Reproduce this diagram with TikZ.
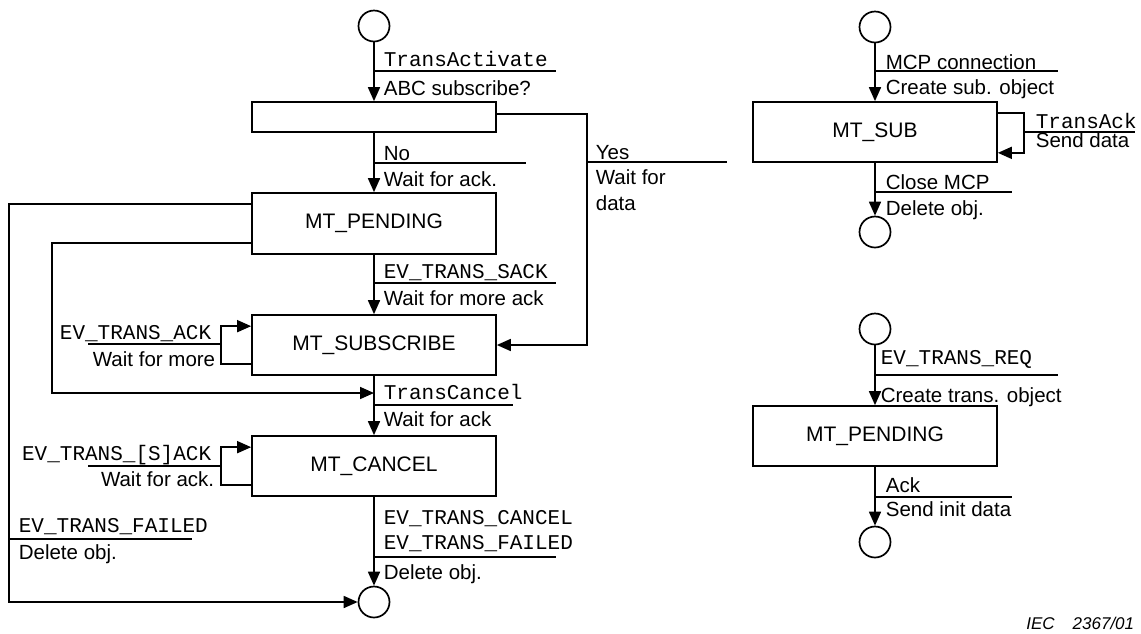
\documentclass[tikz,border=0pt]{standalone}
\usepackage{fontspec}
\setmainfont{Liberation Sans}
\setmonofont{Liberation Mono}
\usetikzlibrary{arrows.meta,calc}
\begin{document}
\begin{tikzpicture}[x=1pt,y=-1pt,line width=1.7pt,
  state/.style={draw,minimum width=244pt,minimum height=60pt,inner sep=0pt,font=\fontsize{21}{25}\selectfont},
  term/.style={draw,circle,minimum size=31pt,inner sep=0pt},
  arr/.style={-{Triangle[length=14pt,width=12pt]}},
  sl/.style={font=\fontsize{20.5}{24}\selectfont,inner sep=0pt,anchor=base west},
  ml/.style={font=\ttfamily\fontsize{21}{24}\selectfont,inner sep=0pt,anchor=base west},
  re/.style={anchor=base east}]
\useasboundingbox (0,0) rectangle (1141,633);

% left chart
\node[term] (c1) at (374,26) {};
\node[state,minimum height=30pt] (dec) at (374,117) {};
\node[state,minimum height=61pt] (pend) at (374,223.5) {MT\_PENDING};
\node[state] (sub) at (374,345) {MT\_SUBSCRIBE};
\node[state] (canc) at (374,466) {MT\_CANCEL};
\node[term] (c2) at (374,602) {};

\draw[arr] (c1) -- (dec);
\draw[arr] (dec) -- (pend);
\draw[arr] (pend) -- (sub);
\draw[arr] (sub) -- (canc);
\draw[arr] (canc) -- (c2);

\coordinate (yesx) at (587,0);
\coordinate (d1) at ($(dec.north east)+(0,13)$);
\draw[arr] (d1) -- (d1 -| yesx) |- (sub.east);

\coordinate (outx) at (9,0);
\coordinate (p1) at ($(pend.north west)+(0,12)$);
\draw[arr] (p1) -- (p1 -| outx) |- (c2.west);

\coordinate (inx) at (52,0);
\coordinate (p2) at ($(pend.south west)+(0,-12)$);
\coordinate (tc) at (374,393);
\draw[arr] (p2) -- (p2 -| inx) |- (tc);

\coordinate (lx) at (221,0);
\coordinate (s1) at ($(sub.south west)+(0,-12)$);
\coordinate (s2) at ($(sub.north west)+(0,12)$);
\draw[arr] (s1) -- (s1 -| lx) |- (s2);
\coordinate (k1) at ($(canc.south west)+(0,-12)$);
\coordinate (k2) at ($(canc.north west)+(0,12)$);
\draw[arr] (k1) -- (k1 -| lx) |- (k2);

% separators
\draw (374,71) -- (556,71);
\draw (374,163) -- (526,163);
\draw (587,162) -- (727,162);
\draw (374,283) -- (556,283);
\draw (88,344) -- (221,344);
\draw (374,405) -- (513,405);
\draw (88,466) -- (221,466);
\draw (9,539) -- (192,539);
\draw (374,557) -- (556,557);

% labels left
\node[ml] (t1) at (383,66) {TransActivate};
\node[sl] (t2) at (383,95) {ABC subscribe?};
\node[sl] (t3) at (383,160) {No};
\node[sl] (t4) at (383,186) {Wait for ack.};
\node[sl] (t5) at (595,159) {Yes};
\node[sl] (t6) at (595,184) {Wait for};
\node[sl] (t7) at (595,210) {data};
\node[ml] (t8) at (383,278) {EV\_TRANS\_SACK};
\node[sl] (t9) at (383,305) {Wait for more ack};
\node[ml,re] (t10) at (212,339) {EV\_TRANS\_ACK};
\node[sl,re] (t11) at (216,366) {Wait for more};
\node[ml] (t12) at (383,399) {TransCancel};
\node[sl] (t13) at (383,426) {Wait for ack};
\node[ml,re] (t14) at (212,460) {EV\_TRANS\_[S]ACK};
\node[sl,re] (t15) at (215,486) {Wait for ack.};
\node[ml] (t16) at (18,532) {EV\_TRANS\_FAILED};
\node[sl] (t17) at (18,559) {Delete obj.};
\node[ml] (t18) at (383,524) {EV\_TRANS\_CANCEL};
\node[ml] (t19) at (383,549) {EV\_TRANS\_FAILED};
\node[sl] (t20) at (383,579) {Delete obj.};

% right top chart
\node[term] (c3) at (875,27) {};
\node[state] (msub) at (875,132) {MT\_SUB};
\node[term] (c4) at (875,232) {};
\draw[arr] (c3) -- (msub);
\draw[arr] (msub) -- (c4);
\coordinate (rx) at (1024,0);
\coordinate (m1) at ($(msub.north east)+(0,12)$);
\coordinate (m2) at ($(msub.south east)+(0,-10)$);
\draw[arr] (m1) -- (m1 -| rx) |- (m2);
\draw (875,71) -- (1058,71);
\draw (1024,132) -- (1135,132);
\draw (875,192) -- (1012,192);
\node[sl] (r1) at (885,69) {MCP connection};
\node[sl] (r2) at (885,94) {Create sub. object};
\node[ml] (r3) at (1035,128) {TransAck};
\node[sl] (r4) at (1035,147) {Send data};
\node[sl] (r5) at (885,189) {Close MCP};
\node[sl] (r6) at (885,215) {Delete obj.};

% right bottom chart
\node[term] (c5) at (875,329) {};
\node[state] (mpend) at (875,436) {MT\_PENDING};
\node[term] (c6) at (875,542) {};
\draw[arr] (c5) -- (mpend);
\draw[arr] (mpend) -- (c6);
\draw (875,375) -- (1058,375);
\draw (875,497) -- (1012,497);
\node[ml] (r7) at (880,364) {EV\_TRANS\_REQ};
\node[sl] (r8) at (880,402) {Create trans. object};
\node[sl] (r9) at (885,492) {Ack};
\node[sl] (r10) at (885,516) {Send init data};

\node[font=\itshape\fontsize{17}{20}\selectfont,inner sep=0pt,anchor=base east] (iec) at (1135,629) {IEC\hspace{18pt}2367/01};
\end{tikzpicture}
\end{document}
